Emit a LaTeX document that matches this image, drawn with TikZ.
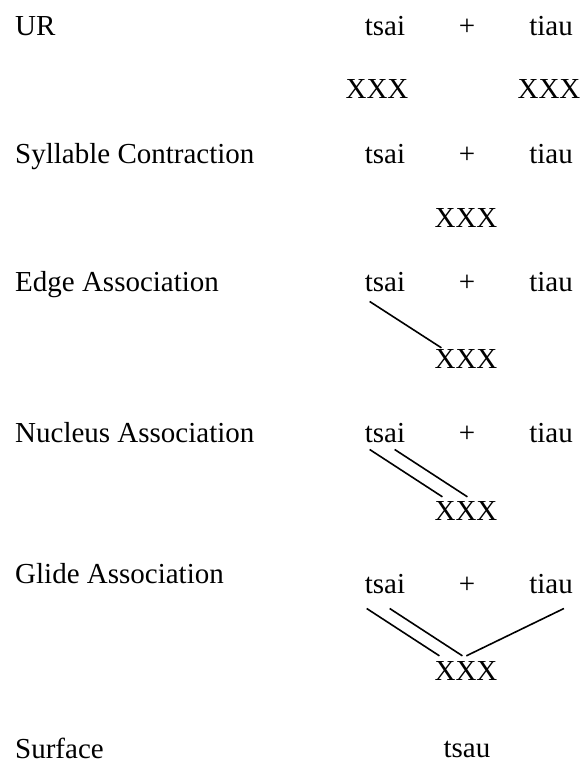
\documentclass[tikz,border=0pt]{standalone}
\usepackage{fontspec}
\setmainfont{Liberation Serif}

\begin{document}
\begin{tikzpicture}[x=1pt,y=-1pt,
	every node/.style={inner sep=0pt,font=\fontsize{29}{34}\selectfont},
	lab/.style={anchor=base west},
	seg/.style={anchor=base},
	assoc/.style={line width=1.6pt}]
	\useasboundingbox (0,0) rectangle (585,763);
	% UR
	\node[lab] (urL) at (15,35) {UR};
	\node[seg] (urA) at (385,35) {tsai};
	\node[seg] (urP) at (467,35) {+};
	\node[seg] (urB) at (551,35) {tiau};
	\node[seg] (urXa) at (377,98) {XXX};
	\node[seg] (urXb) at (549,98) {XXX};
	% syllable contraction
	\node[lab] (scL) at (15,163) {Syllable Contraction};
	\node[seg] (scA) at (385,163) {tsai};
	\node[seg] (scP) at (467,163) {+};
	\node[seg] (scB) at (551,163) {tiau};
	\node[seg] (scX) at (466,227) {XXX};
	% edge association
	\node[lab] (eaL) at (15,291) {Edge Association};
	\node[seg] (eaA) at (385,291) {tsai};
	\node[seg] (eaP) at (467,291) {+};
	\node[seg] (eaB) at (551,291) {tiau};
	\node[seg] (eaX) at (466,368) {XXX};
	\draw[assoc] ([shift={(5,10)}]eaA.south west) -- ([shift={(7,-1)}]eaX.north west);
	% nucleus association
	\node[lab] (naL) at (15,442) {Nucleus Association};
	\node[seg] (naA) at (385,442) {tsai};
	\node[seg] (naP) at (467,442) {+};
	\node[seg] (naB) at (551,442) {tiau};
	\node[seg] (naX) at (466,520) {XXX};
	\draw[assoc] ([shift={(5,7)}]naA.south west) -- ([shift={(8,-4)}]naX.north west);
	\draw[assoc] ([shift={(30,7)}]naA.south west) -- ([shift={(33,-4)}]naX.north west);
	% glide association
	\node[lab] (gaL) at (15,583) {Glide Association};
	\node[seg] (gaA) at (385,593) {tsai};
	\node[seg] (gaP) at (467,593) {+};
	\node[seg] (gaB) at (551,593) {tiau};
	\node[seg] (gaX) at (466,680) {XXX};
	\draw[assoc] ([shift={(2,15)}]gaA.south west) -- ([shift={(5,-5)}]gaX.north west);
	\draw[assoc] ([shift={(25,15)}]gaA.south west) -- ([shift={(28,-5)}]gaX.north west);
	\draw[assoc] ([shift={(-9,15)}]gaB.south east) -- ([shift={(32,-5)}]gaX.north west);
	% surface
	\node[lab] (sfL) at (15,758) {Surface};
	\node[seg] (sfA) at (467,757) {tsau};
\end{tikzpicture}
\end{document}
